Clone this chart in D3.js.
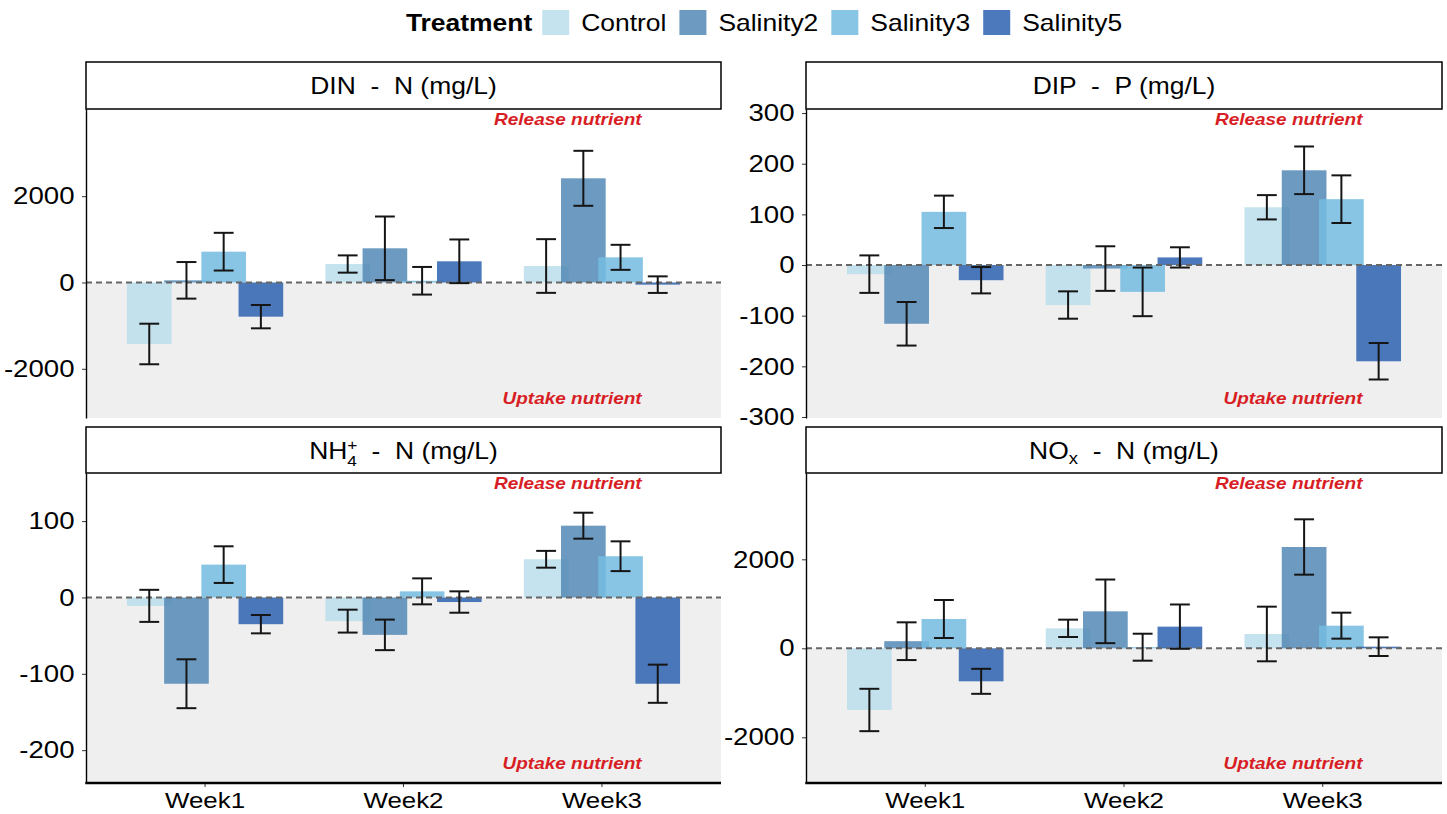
<!DOCTYPE html>
<html><head><meta charset="utf-8">
<script src="https://cdn.jsdelivr.net/npm/d3@7"></script>
<style>body{margin:0;background:#fff}svg{display:block;font-family:"Liberation Sans",Arial,sans-serif}</style>
</head><body><svg id="c" width="1447" height="814"></svg>
<script>
// ---------------- data ----------------
const weeks = ["Week1", "Week2", "Week3"];
const treatments = ["Control", "Salinity2", "Salinity3", "Salinity5"];

// rows = weeks, columns = treatments
const dinMean = [[-1425, 50, 714, -792], [428, 792, 40, 491], [382, 2414, 583, -50]];
const dinErr  = [[470, 424, 437, 270], [200, 737, 320, 506], [622, 637, 290, 192]];
const dipMean = [[-18, -116, 105, -30], [-79, -7, -53, 15], [114, 187, 130, -190]];
const dipErr  = [[37, 43, 32, 26], [27, 44, 48, 20], [24, 47, 47, 36]];
const nh4Mean = [[-11, -113, 43, -35], [-31, -49, 8, -6], [50, 94, 54, -113]];
const nh4Err  = [[21, 32, 24, 12], [15, 20, 17, 14], [11, 17, 19.5, 25]];
const noxMean = [[-1386, 160, 659, -742], [449, 831, 25, 487], [322, 2277, 509, 37]];
const noxErr  = [[476, 424, 427, 281], [195, 715, 303, 498], [614, 622, 292, 210]];

const dinTicks = [-2000, 0, 2000];
const dipTicks = [-300, -200, -100, 0, 100, 200, 300];
const nh4Ticks = [-200, -100, 0, 100];
const noxTicks = [-2000, 0, 2000];

const dinDomain = [-3140, 4020];
const dipDomain = [-302, 308];
const nh4Domain = [-243, 163];
const noxDomain = [-3027, 3940];

const legendTitle = "Treatment";
const releaseLabel = "Release nutrient";
const uptakeLabel = "Uptake nutrient";

// ---------------- style / layout ----------------
const colors = ["#bcdeec", "#5489b6", "#74bbe1", "#2d63b0"];
const OP = 0.86;
const SX = 1.15;
const svg = d3.select("#c");

const layout = [
  {mean: dinMean, err: dinErr, domain: dinDomain, ticks: dinTicks, x0: 86, x1: 721, y0: 109, y1: 418, sy: 62,
   title: [{t: "DIN  -  N (mg/L)"}], bottom: false},
  {mean: dipMean, err: dipErr, domain: dipDomain, ticks: dipTicks, x0: 806, x1: 1442, y0: 109, y1: 418, sy: 62,
   title: [{t: "DIP  -  P (mg/L)"}], bottom: false},
  {mean: nh4Mean, err: nh4Err, domain: nh4Domain, ticks: nh4Ticks, x0: 86, x1: 721, y0: 473, y1: 783, sy: 427,
   title: [{t: "NH"}, {sup: "+", sub: "4"}, {t: "  -  N (mg/L)"}], bottom: true},
  {mean: noxMean, err: noxErr, domain: noxDomain, ticks: noxTicks, x0: 806, x1: 1442, y0: 473, y1: 783, sy: 427,
   title: [{t: "NO"}, {sub: "x"}, {t: "  -  N (mg/L)"}], bottom: true}
];

// ---------------- legend ----------------
const leg = svg.append("g");
let cx = 0;
const lt = leg.append("text").attr("font-weight", "bold").attr("font-size", 23)
  .attr("transform", `translate(0,31) scale(${SX},1)`).text(legendTitle);
cx = lt.node().getComputedTextLength() * SX + 10;
treatments.forEach((t, i) => {
  leg.append("rect").attr("x", cx).attr("y", 10).attr("width", 27).attr("height", 25)
    .attr("fill", colors[i]).attr("fill-opacity", OP);
  cx += 27 + 12;
  const tt = leg.append("text").attr("font-size", 23)
    .attr("transform", `translate(${cx},31) scale(${SX},1)`).text(t);
  cx += tt.node().getComputedTextLength() * SX + 13;
});
cx -= 13;
leg.attr("transform", `translate(${764 - cx / 2},0)`);

// ---------------- panels ----------------
layout.forEach(p => {
  const x = d3.scaleBand().domain(weeks).range([p.x0, p.x1]).paddingInner(0).paddingOuter(0.1);
  const u = x.step();
  const dodge = d3.scalePoint().domain(treatments).range([-0.28125 * u, 0.28125 * u]);
  const bw = 0.225 * u;
  const capW = 0.05 * u;
  const y = d3.scaleLinear().domain(p.domain).range([p.y1, p.y0]);
  const g = svg.append("g");

  // uptake shading
  g.append("rect").attr("x", p.x0).attr("y", y(0)).attr("width", p.x1 - p.x0)
    .attr("height", y(p.domain[0]) - y(0)).attr("fill", "#efefef");

  const rows = [];
  weeks.forEach((w, wi) => treatments.forEach((t, ti) =>
    rows.push({w, t, ti, v: p.mean[wi][ti], e: p.err[wi][ti]})));
  const cxOf = d => x(d.w) + x.bandwidth() / 2 + dodge(d.t);

  g.append("g").selectAll("rect").data(rows).join("rect")
    .attr("x", d => cxOf(d) - bw / 2).attr("width", bw)
    .attr("y", d => y(Math.max(0, d.v))).attr("height", d => Math.abs(y(d.v) - y(0)))
    .attr("fill", d => colors[d.ti]).attr("fill-opacity", OP);

  // zero dashed line
  g.append("line").attr("x1", p.x0).attr("x2", p.x1).attr("y1", y(0)).attr("y2", y(0))
    .attr("stroke", "#666").attr("stroke-width", 2).attr("stroke-dasharray", "6,4");

  // error bars
  const eb = g.append("g").attr("stroke", "#151515").attr("stroke-width", 2).attr("fill", "none");
  rows.forEach(d => {
    const c = cxOf(d), hi = y(d.v + d.e), lo = y(d.v - d.e);
    eb.append("line").attr("x1", c).attr("x2", c).attr("y1", hi).attr("y2", lo);
    eb.append("line").attr("x1", c - capW).attr("x2", c + capW).attr("y1", hi).attr("y2", hi);
    eb.append("line").attr("x1", c - capW).attr("x2", c + capW).attr("y1", lo).attr("y2", lo);
  });

  // y axis
  const ya = g.append("g").attr("transform", `translate(${p.x0},0)`)
    .call(d3.axisLeft(y).tickValues(p.ticks).tickFormat(d => String(d)).tickSize(4).tickPadding(6).tickSizeOuter(0));
  ya.select(".domain").attr("stroke", "#000").attr("stroke-width", 1.4);
  ya.selectAll(".tick line").attr("stroke", "#333");
  ya.selectAll(".tick text").attr("font-size", 24).attr("fill", "#000")
    .attr("font-family", '"Liberation Sans",Arial,sans-serif').attr("transform", `scale(${SX},1)`);

  // x axis
  if (p.bottom) {
    const xa = g.append("g").attr("transform", `translate(0,${p.y1})`)
      .call(d3.axisBottom(x).tickSize(4).tickPadding(5).tickSizeOuter(0));
    xa.select(".domain").remove();
    xa.selectAll(".tick line").attr("stroke", "#333");
    xa.selectAll(".tick text").attr("font-size", 22.5).attr("fill", "#000")
      .attr("font-family", '"Liberation Sans",Arial,sans-serif').attr("transform", `scale(${SX},1)`);
    g.append("line").attr("x1", p.x0 - 0.7).attr("x2", p.x1).attr("y1", p.y1).attr("y2", p.y1)
      .attr("stroke", "#000").attr("stroke-width", 2.6);
  }

  // strip
  g.append("rect").attr("x", p.x0).attr("y", p.sy).attr("width", p.x1 - p.x0).attr("height", p.y0 - p.sy)
    .attr("fill", "#fff").attr("stroke", "#000").attr("stroke-width", 1.5);
  const st = g.append("text").attr("text-anchor", "middle").attr("font-size", 23).style("white-space", "pre")
    .attr("transform", `translate(${(p.x0 + p.x1) / 2},${p.sy + 32}) scale(${SX},1)`);
  let shift = 0;
  p.title.forEach(seg => {
    if (seg.t !== undefined) {
      st.append("tspan").attr("dy", -shift).text(seg.t); shift = 0;
    } else if (seg.sup !== undefined) {
      st.append("tspan").attr("font-size", 15).attr("dy", -9).text(seg.sup);
      st.append("tspan").attr("font-size", 15).attr("dx", -8.8).attr("dy", 16).text(seg.sub);
      shift = 7;
    } else {
      st.append("tspan").attr("font-size", 16).attr("dy", 5).text(seg.sub);
      shift = 5;
    }
  });

  // annotations
  const ax = x("Week3") + 0.7 * u;
  g.append("text").attr("text-anchor", "end").attr("font-weight", "bold").attr("font-style", "italic")
    .attr("font-size", 16.5).attr("fill", "#d81e25")
    .attr("transform", `translate(${ax},${p.y0 + 15.5}) scale(${SX},1)`).text(releaseLabel);
  g.append("text").attr("text-anchor", "end").attr("font-weight", "bold").attr("font-style", "italic")
    .attr("font-size", 16.5).attr("fill", "#d81e25")
    .attr("transform", `translate(${ax},${p.y1 - 14.5}) scale(${SX},1)`).text(uptakeLabel);
});
</script></body></html>
